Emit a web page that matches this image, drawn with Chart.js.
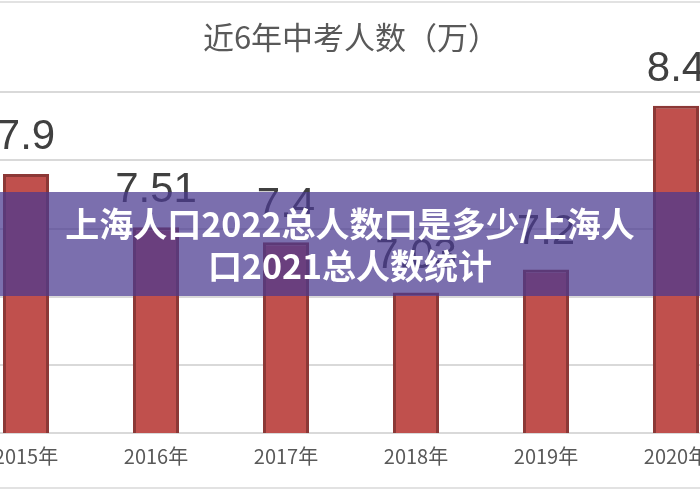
<!DOCTYPE html>
<html>
<head>
<meta charset="utf-8">
<script src="https://cdn.jsdelivr.net/npm/chart.js@4/dist/chart.umd.min.js"></script>
<style>
  html, body { margin: 0; padding: 0; background: #fff; }
  #wrap { position: relative; width: 700px; height: 490px; overflow: hidden; background: #fff; }
  #box { position: absolute; left: -39px; top: 0; width: 780px; height: 490px; }
  .frame { position: absolute; left: 0; width: 700px; height: 2px; background: #e2e2e2; }
  #banner {
    position: absolute; left: 0; top: 192px; width: 700px; height: 104px;
    background: rgba(74, 58, 144, 0.73);
    display: flex; align-items: center; justify-content: center;
    color: #fff; font-family: "Noto Sans CJK SC", sans-serif; font-weight: bold;
    font-size: 34px; line-height: 42px; text-align: center;
  }
</style>
</head>
<body>
<div id="wrap">
  <div class="frame" style="top:1px"></div>
  <div id="box"><canvas id="chart" width="780" height="490"></canvas></div>
  <div class="frame" style="top:487px"></div>
  <div id="banner">上海人口2022总人数口是多少/上海人<br>口2021总人数统计</div>
</div>
<script>
// 近6年中考人数（万）
const years = ['2015年', '2016年', '2017年', '2018年', '2019年', '2020年'];
const examCounts = [7.9, 7.51, 7.4, 7.03, 7.2, 8.4];
const countLabels = ['7.9', '7.51', '7.4', '7.03', '7.2', '8.4'];

// draws the big value numbers above each bar
const valueLabels = {
    id: 'valueLabels',
    afterDatasetsDraw(chart) {
        const ctx = chart.ctx;
        const meta = chart.getDatasetMeta(0);
        ctx.save();
        ctx.font = '42px "Liberation Sans", sans-serif';
        ctx.fillStyle = '#404040';
        ctx.textAlign = 'center';
        ctx.textBaseline = 'alphabetic';
        meta.data.forEach(function (bar, i) {
            ctx.fillText(countLabels[i], bar.x, bar.y - 25);
        });
        ctx.restore();
    }
};

const canvas = document.getElementById('chart');
const chart = new Chart(canvas, {
    type: 'bar',
    data: {
        labels: years,
        datasets: [{
            label: '中考人数',
            data: examCounts,
            backgroundColor: '#c0504d',
            borderColor: '#8c3836',
            borderWidth: 3,
            categoryPercentage: 1,
            barPercentage: 0.354
        }]
    },
    options: {
        responsive: false,
        animation: false,
        layout: { padding: { top: 0, bottom: 19, left: 0, right: 0 } },
        plugins: {
            legend: { display: false },
            tooltip: { enabled: false },
            title: {
                display: true,
                text: '近6年中考人数（万）',
                color: '#595959',
                font: { family: '"Noto Sans CJK SC", sans-serif', size: 31, weight: 'normal' },
                padding: { top: 19, bottom: 36 }
            }
        },
        scales: {
            x: {
                grid: { display: false },
                border: { display: false },
                ticks: {
                    color: '#595959',
                    padding: 3,
                    font: { family: '"Noto Sans CJK SC", sans-serif', size: 20 }
                }
            },
            y: {
                min: 6,
                max: 8.5,
                ticks: { display: false, stepSize: 0.5 },
                border: { display: false },
                grid: { color: '#d9d9d9', lineWidth: 2, drawTicks: false }
            }
        }
    },
    plugins: [valueLabels]
});
</script>
</body>
</html>
